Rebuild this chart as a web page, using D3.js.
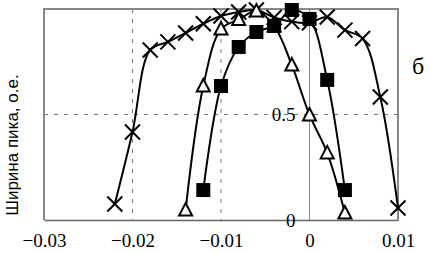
<!DOCTYPE html>
<html>
<head>
<meta charset="utf-8">
<script src="https://cdn.jsdelivr.net/npm/d3@7"></script>
<style>
  body { margin: 0; background: #fff; }
  svg { display: block; }
</style>
</head>
<body>
<div id="chart"></div>
<script>
// Chart data
var xTicks = [-0.03, -0.02, -0.01, 0, 0.01];
var xTickLabels = ["\u22120.03", "\u22120.02", "\u22120.01", "0", "0.01"];
var yTicks = [0, 0.5];
var yTickLabels = ["0", "0.5"];

var crossX = [-0.022, -0.020, -0.018, -0.016, -0.014, -0.012, -0.010, -0.008, -0.006, -0.004, -0.002, 0, 0.002, 0.004, 0.006, 0.008, 0.010];
var crossY = [0.076, 0.417, 0.806, 0.844, 0.886, 0.93, 0.967, 0.986, 0.995, 0.96, 0.94, 0.935, 0.962, 0.90, 0.86, 0.583, 0.057];

var triX = [-0.014, -0.012, -0.010, -0.008, -0.006, -0.004, -0.002, 0, 0.002, 0.004];
var triY = [0.047, 0.635, 0.905, 0.95, 0.99, 0.92, 0.735, 0.498, 0.318, 0.033];

var sqX = [-0.012, -0.010, -0.008, -0.006, -0.004, -0.002, 0, 0.002, 0.004];
var sqY = [0.142, 0.635, 0.82, 0.891, 0.92, 0.995, 0.953, 0.664, 0.142];

var yTitle = "Ширина пика, о.е.";
var panelLetter = "б";

var serifFont = "'Liberation Serif', 'Times New Roman', serif";

// SVG area
var svgWidth = 431;
var svgHeight = 253;

var svg = d3.select("#chart")
  .append("svg")
  .attr("width", svgWidth)
  .attr("height", svgHeight);

var xScale = d3.scaleLinear().domain([-0.03, 0.01]).range([44, 398]);
var yScale = d3.scaleLinear().domain([0, 1]).range([220, 9]);

// gridlines
svg.selectAll(".vgrid")
  .data([-0.02, -0.01])
  .enter()
  .append("line")
  .attr("x1", d => xScale(d)).attr("x2", d => xScale(d))
  .attr("y1", yScale(1)).attr("y2", yScale(0))
  .attr("stroke", "#777").attr("stroke-width", 1)
  .attr("stroke-dasharray", "4,6");

svg.append("line")
  .attr("x1", xScale(-0.03)).attr("x2", xScale(0.01))
  .attr("y1", yScale(0.5)).attr("y2", yScale(0.5))
  .attr("stroke", "#777").attr("stroke-width", 1)
  .attr("stroke-dasharray", "4,6");

// plot border
svg.append("path")
  .attr("d", `M${xScale(-0.03)},${yScale(0)}V${yScale(1)}H${xScale(0.01)}V${yScale(0)}`)
  .attr("fill", "none").attr("stroke", "#888").attr("stroke-width", 2);

// y axis at x = 0
svg.append("line")
  .attr("x1", xScale(0)).attr("x2", xScale(0))
  .attr("y1", yScale(0)).attr("y2", yScale(1))
  .attr("stroke", "#888").attr("stroke-width", 1);

// x axis
var bottomAxis = d3.axisBottom(xScale)
  .tickValues(xTicks)
  .tickFormat((d, i) => xTickLabels[i])
  .tickSize(0)
  .tickPadding(14);

var xAxisG = svg.append("g")
  .attr("transform", `translate(0, ${yScale(0)})`)
  .call(bottomAxis);
xAxisG.select(".domain").attr("stroke", "#666").attr("stroke-width", 1.5);
xAxisG.selectAll("text")
  .style("font-family", serifFont)
  .style("font-size", "19px")
  .attr("fill", "#000");

// y axis labels
var leftAxis = d3.axisLeft(yScale)
  .tickValues(yTicks)
  .tickFormat((d, i) => yTickLabels[i])
  .tickSize(0)
  .tickPadding(14);

var yAxisG = svg.append("g")
  .attr("transform", `translate(${xScale(0)}, 0)`)
  .call(leftAxis);
yAxisG.select(".domain").remove();
yAxisG.selectAll("text")
  .style("font-family", serifFont)
  .style("font-size", "19px")
  .attr("fill", "#000");

// y title
svg.append("text")
  .attr("transform", "translate(18, 145) rotate(-90)")
  .attr("text-anchor", "middle")
  .style("font-family", "'Liberation Sans', Arial, sans-serif")
  .style("font-size", "17px")
  .text(yTitle);

// panel letter
svg.append("text")
  .attr("x", 418).attr("y", 74)
  .attr("text-anchor", "middle")
  .style("font-family", serifFont)
  .style("font-size", "24px")
  .text(panelLetter);

// lines
var line = d3.line()
  .x(d => xScale(d[0]))
  .y(d => yScale(d[1]))
  .curve(d3.curveCatmullRom.alpha(0.5));

var crossData = d3.zip(crossX, crossY);
var triData = d3.zip(triX, triY);
var sqData = d3.zip(sqX, sqY);

[crossData, triData, sqData].forEach(function(data) {
  svg.append("path")
    .datum(data)
    .attr("d", line)
    .attr("fill", "none")
    .attr("stroke", "#000")
    .attr("stroke-width", 2);
});

// cross markers
svg.selectAll(".cross")
  .data(crossData)
  .enter()
  .append("path")
  .attr("transform", d => `translate(${xScale(d[0])}, ${yScale(d[1])})`)
  .attr("d", "M-7.5,-7.5L7.5,7.5M-7.5,7.5L7.5,-7.5")
  .attr("stroke", "#000").attr("stroke-width", 2)
  .attr("fill", "none");

// triangle markers
svg.selectAll(".tri")
  .data(triData)
  .enter()
  .append("path")
  .attr("transform", d => `translate(${xScale(d[0])}, ${yScale(d[1])})`)
  .attr("d", "M0,-7L6.5,5.5L-6.5,5.5Z")
  .attr("stroke", "#000").attr("stroke-width", 2)
  .attr("fill", "#fff");

// square markers
svg.selectAll(".sq")
  .data(sqData)
  .enter()
  .append("rect")
  .attr("x", d => xScale(d[0]) - 7)
  .attr("y", d => yScale(d[1]) - 7)
  .attr("width", 14).attr("height", 14)
  .attr("fill", "#000");
</script>
</body>
</html>
